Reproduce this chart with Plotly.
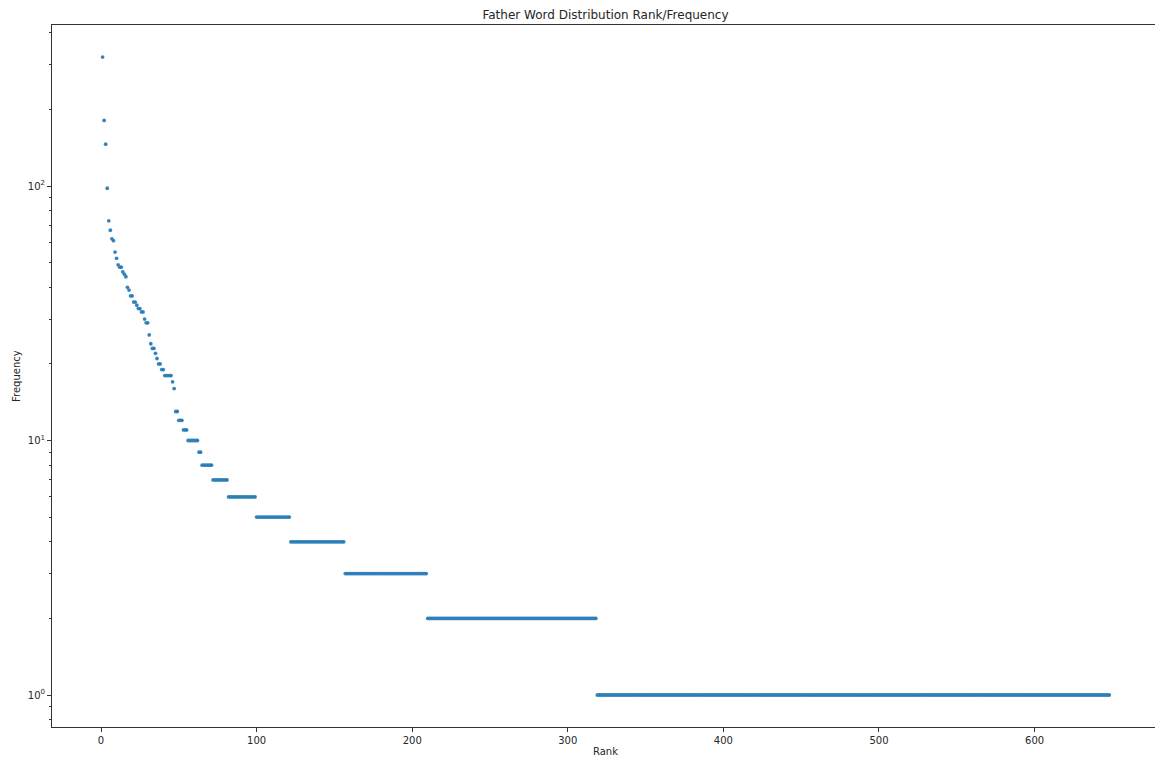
import plotly.graph_objects as go

# Word frequencies for the most common words (ranks 1-47)
head_freq = [321, 181, 146, 98, 73, 67, 62, 61, 55, 52,
             49, 48, 48, 46, 45, 44, 40, 39, 37, 37,
             35, 35, 34, 33, 33, 32, 32, 30, 29, 29,
             26, 24, 23, 23, 22, 21, 20, 20, 19, 19,
             18, 18, 18, 18, 18, 17, 16]

# Remaining words: frequency plateaus and how many words share each value
plateau_freq = [13, 12, 11, 10, 9, 8, 7, 6, 5, 4, 3, 2, 1]
plateau_words = [2, 3, 3, 7, 2, 7, 10, 18, 22, 35, 53, 109, 330]

frequency = list(head_freq)
for f, n in zip(plateau_freq, plateau_words):
    frequency.extend([f] * n)
rank = list(range(1, len(frequency) + 1))

FONT = "DejaVu Sans"
AXIS = "#333333"
TEXT = "#262626"

fig = go.Figure(
    go.Scatter(
        x=rank,
        y=frequency,
        mode="markers",
        marker=dict(color="#1f77b4", size=3.8, opacity=0.92,
                    line=dict(width=0.3, color="rgba(255,255,255,0.35)")),
        hoverinfo="x+y",
    )
)

minor_vals = [0.8, 0.9] + [d * m for d in (1, 10, 100) for m in range(2, 10)]

fig.update_layout(
    width=1155,
    height=760,
    margin=dict(l=52, r=0, t=25, b=33),
    paper_bgcolor="white",
    plot_bgcolor="white",
    showlegend=False,
    font=dict(family=FONT, color=TEXT, size=10),
    title=dict(
        text="Father Word Distribution Rank/Frequency",
        x=605.5 / 1155,
        xanchor="center",
        y=1 - 15 / 760,
        yanchor="middle",
        font=dict(family=FONT, size=12, color=TEXT),
    ),
    xaxis=dict(
        range=[-31.5, 677.4],
        tickmode="array",
        tickvals=[0, 100, 200, 300, 400, 500, 600],
        ticks="outside",
        ticklen=4,
        tickwidth=1,
        tickcolor=AXIS,
        showline=True,
        linecolor=AXIS,
        linewidth=1,
        mirror=True,
        showgrid=False,
        zeroline=False,
        tickfont=dict(size=10, color=TEXT),
    ),
    yaxis=dict(
        type="log",
        range=[-0.1257, 2.6326],
        tickmode="array",
        tickvals=[1, 10, 100],
        ticktext=["10<sup>0</sup>", "10<sup>1</sup>", "10<sup>2</sup>"],
        ticks="outside",
        ticklen=4,
        tickwidth=1,
        tickcolor=AXIS,
        minor=dict(
            tickmode="array",
            tickvals=minor_vals,
            ticks="outside",
            ticklen=2.2,
            tickwidth=0.8,
            tickcolor=AXIS,
            showgrid=False,
        ),
        showline=True,
        linecolor=AXIS,
        linewidth=1,
        mirror=False,
        showgrid=False,
        zeroline=False,
        tickfont=dict(size=10, color=TEXT),
    ),
    annotations=[
        dict(
            text="Rank",
            xref="paper",
            yref="paper",
            x=(605 - 52) / 1103,
            y=0,
            xanchor="center",
            yanchor="middle",
            yshift=-24,
            showarrow=False,
            font=dict(family=FONT, size=10, color=TEXT),
        ),
        dict(
            text="Frequency",
            xref="paper",
            yref="paper",
            x=0,
            y=0.5,
            xanchor="center",
            yanchor="middle",
            xshift=-36,
            textangle=-90,
            showarrow=False,
            font=dict(family=FONT, size=10, color=TEXT),
        ),
    ],
)

fig.write_html("out.html")
